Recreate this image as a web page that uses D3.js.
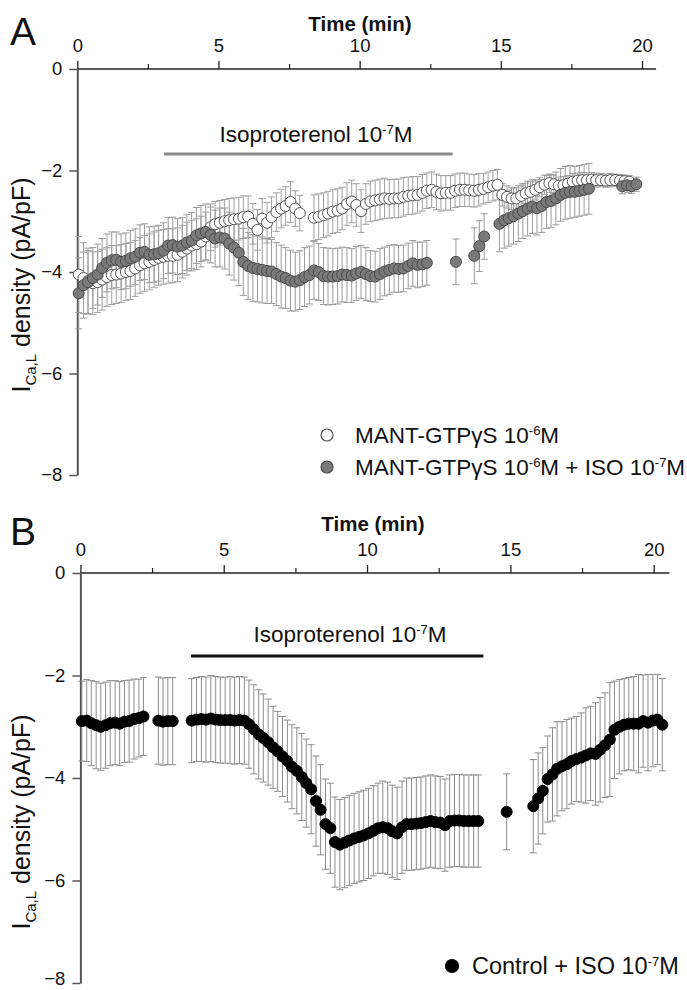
<!DOCTYPE html>
<html><head><meta charset="utf-8">
<script src="https://cdn.jsdelivr.net/npm/d3@7"></script>
<style>
body{margin:0;background:#fff}
svg{display:block}
text{font-family:"Liberation Sans",Arial,Helvetica,sans-serif;fill:#111}
</style>
</head><body>
<svg id="c" width="687" height="990"></svg>
<script>
// ---------- tick labels ----------
const xTicks = [0, 5, 10, 15, 20];
const xMinor = [2.5, 7.5, 12.5, 17.5];
const yTicks = [0, -2, -4, -6, -8];

// ---------- Panel A : MANT-GTPγS 10^-6 M (open circles) ----------
const openT = [0.05,0.22,0.38,0.55,0.72,0.88,1.05,1.22,1.38,1.55,1.72,1.88,2.05,2.22,2.38,2.55,2.72,2.88,3.05,3.22,
3.38,3.55,3.72,3.88,4.05,4.22,4.38,4.55,4.72,4.88,5.05,5.22,5.38,5.55,5.72,5.88,6.05,6.22,6.38,6.55,
6.72,6.88,7.05,7.22,7.38,7.55,7.72,7.88,
8.38,8.55,8.72,8.88,9.05,9.22,9.38,9.55,9.72,9.88,10.05,10.22,10.38,10.55,10.72,10.88,11.05,11.22,11.38,11.55,
11.72,11.88,12.05,12.22,12.38,12.55,12.72,12.88,13.05,13.22,13.38,13.55,13.72,13.88,14.05,14.22,14.38,14.55,14.72,14.88,
15.05,15.22,15.38,15.55,15.72,15.88,16.05,16.22,16.38,16.55,16.72,16.88,17.05,17.22,17.38,17.55,17.72,17.88,18.05,18.22,
18.38,18.55,18.72,18.88,19.05,19.22,19.38,19.55];
const openV = [-4.05,-4.12,-4.18,-4.22,-4.20,-4.15,-4.10,-4.06,-4.05,-4.03,-4.00,-3.98,-3.93,-3.87,-3.83,-3.80,-3.76,-3.72,-3.70,-3.68,
-3.68,-3.66,-3.60,-3.54,-3.48,-3.45,-3.40,-3.30,-3.12,-3.06,-3.03,-3.00,-2.98,-2.96,-2.95,-2.92,-2.91,-3.05,-3.17,-2.95,
-3.03,-2.92,-2.82,-2.75,-2.70,-2.62,-2.75,-2.84,
-2.93,-2.91,-2.88,-2.85,-2.81,-2.79,-2.75,-2.66,-2.61,-2.68,-2.80,-2.66,-2.61,-2.59,-2.57,-2.55,-2.56,-2.55,-2.55,-2.52,
-2.50,-2.49,-2.48,-2.44,-2.40,-2.38,-2.42,-2.45,-2.44,-2.44,-2.40,-2.38,-2.38,-2.39,-2.40,-2.38,-2.36,-2.33,-2.30,-2.28,
-2.48,-2.52,-2.55,-2.55,-2.50,-2.45,-2.42,-2.38,-2.33,-2.28,-2.25,-2.27,-2.30,-2.29,-2.26,-2.22,-2.20,-2.19,-2.19,-2.18,
-2.19,-2.19,-2.20,-2.19,-2.19,-2.20,-2.21,-2.22];
const openE = [0.75,0.70,0.65,0.62,0.60,0.60,0.58,0.58,0.57,0.57,0.56,0.56,0.55,0.55,0.55,0.55,0.55,0.54,0.54,0.54,
0.53,0.53,0.52,0.52,0.50,0.50,0.50,0.48,0.46,0.45,0.44,0.43,0.43,0.42,0.42,0.42,0.41,0.40,0.40,0.40,
0.40,0.40,0.38,0.38,0.38,0.40,0.35,0.35,
0.45,0.45,0.44,0.44,0.43,0.43,0.42,0.42,0.42,0.42,0.42,0.40,0.40,0.40,0.40,0.40,0.38,0.38,0.38,0.38,
0.37,0.37,0.36,0.36,0.35,0.35,0.35,0.35,0.34,0.34,0.33,0.33,0.33,0.32,0.32,0.32,0.30,0.30,0.30,0.30,
0.22,0.22,0.22,0.21,0.21,0.20,0.20,0.20,0.19,0.19,0.18,0.18,0.17,0.17,0.16,0.16,0.15,0.15,0.15,0.14,
0.14,0.13,0.13,0.13,0.12,0.12,0.12,0.12];

// ---------- Panel A : MANT-GTPγS 10^-6 M + ISO 10^-7 M (grey filled) ----------
const isoT = [0.05,0.22,0.38,0.55,0.72,0.88,1.05,1.22,1.38,1.55,1.72,1.88,2.05,2.22,2.38,2.55,2.72,2.88,3.05,3.22,
3.38,3.55,3.72,3.88,4.05,4.22,4.38,4.55,4.72,4.88,5.05,5.22,5.38,5.55,5.72,5.88,6.05,6.22,6.38,6.55,
6.72,6.88,7.05,7.22,7.38,7.55,7.72,7.88,8.05,8.22,8.38,8.55,8.72,8.88,9.05,9.22,9.38,9.55,9.72,9.88,
10.05,10.22,10.38,10.55,10.72,10.88,11.05,11.22,11.38,11.55,11.72,11.88,12.05,12.22,12.38,
13.41,14.06,14.24,14.41,
14.95,15.12,15.28,15.45,15.62,15.78,15.95,16.12,16.28,16.45,16.62,16.78,16.95,17.12,17.28,17.45,17.62,17.78,17.95,18.12,
19.30,19.47,19.63,19.80];
const isoV = [-4.42,-4.26,-4.20,-4.12,-4.05,-3.92,-3.82,-3.77,-3.76,-3.80,-3.78,-3.73,-3.70,-3.62,-3.60,-3.66,-3.65,-3.63,-3.58,-3.48,
-3.47,-3.50,-3.48,-3.42,-3.38,-3.28,-3.24,-3.21,-3.27,-3.34,-3.32,-3.34,-3.44,-3.52,-3.62,-3.80,-3.88,-3.92,-3.94,-3.96,
-3.98,-3.99,-4.04,-4.09,-4.12,-4.17,-4.19,-4.16,-4.10,-4.06,-3.97,-4.00,-4.08,-4.09,-4.09,-4.08,-4.05,-4.06,-4.07,-4.03,
-4.00,-4.04,-4.08,-4.09,-4.04,-3.99,-3.96,-3.93,-3.94,-3.93,-3.88,-3.83,-3.86,-3.85,-3.82,
-3.80,-3.68,-3.49,-3.30,
-3.05,-2.98,-2.94,-2.90,-2.85,-2.80,-2.75,-2.71,-2.74,-2.70,-2.62,-2.60,-2.55,-2.48,-2.44,-2.42,-2.42,-2.40,-2.38,-2.36,
-2.31,-2.29,-2.31,-2.27];
const isoE = [0.70,0.65,0.62,0.60,0.60,0.58,0.57,0.56,0.55,0.55,0.55,0.55,0.55,0.55,0.55,0.55,0.55,0.55,0.55,0.55,
0.55,0.55,0.55,0.55,0.55,0.55,0.55,0.55,0.55,0.56,0.58,0.60,0.62,0.64,0.65,0.66,0.66,0.66,0.65,0.65,
0.64,0.63,0.62,0.62,0.60,0.60,0.58,0.58,0.58,0.57,0.57,0.56,0.56,0.56,0.55,0.55,0.54,0.54,0.53,0.53,
0.52,0.52,0.50,0.50,0.50,0.48,0.48,0.47,0.46,0.46,0.45,0.45,0.45,0.44,0.44,
0.45,0.55,0.50,0.45,
0.55,0.55,0.55,0.55,0.55,0.54,0.54,0.53,0.53,0.52,0.52,0.52,0.52,0.52,0.52,0.52,0.50,0.50,0.50,0.50,
0.15,0.14,0.14,0.14];

// ---------- Panel B : Control + ISO 10^-7 M ----------
const ctrlT = [0.05,0.22,0.38,0.55,0.71,0.88,1.04,1.21,1.37,1.54,1.70,1.87,2.04,2.20,
2.72,2.88,3.05,3.22,
3.88,4.05,4.22,4.38,4.55,4.72,4.88,5.05,5.22,5.38,5.55,5.72,
5.88,6.05,6.22,6.38,6.55,6.72,6.88,7.05,7.22,7.38,7.55,7.72,7.88,8.05,8.22,8.38,8.55,8.72,8.88,9.05,
9.22,9.38,9.55,9.72,9.88,10.05,10.22,10.38,10.55,10.72,10.88,11.05,11.22,11.38,11.55,11.72,11.88,12.05,12.22,12.38,
12.55,12.72,12.88,13.05,13.22,13.38,13.55,13.72,13.88,
14.87,
15.80,15.97,16.13,16.30,16.47,16.63,16.80,16.97,17.13,17.30,17.47,17.63,17.80,17.97,18.13,18.30,18.47,18.63,18.80,18.97,
19.13,19.30,19.47,19.63,19.80,19.97,20.13,20.30];
const ctrlV = [-2.89,-2.88,-2.93,-2.97,-3.00,-2.97,-2.93,-2.92,-2.94,-2.90,-2.89,-2.85,-2.83,-2.80,
-2.88,-2.90,-2.89,-2.89,
-2.88,-2.86,-2.85,-2.86,-2.84,-2.86,-2.87,-2.87,-2.87,-2.88,-2.87,-2.88,
-2.95,-3.05,-3.15,-3.22,-3.30,-3.40,-3.48,-3.58,-3.67,-3.78,-3.86,-3.98,-4.10,-4.22,-4.45,-4.62,-4.90,-4.98,-5.25,-5.30,
-5.26,-5.22,-5.18,-5.15,-5.12,-5.08,-5.03,-4.98,-4.96,-4.98,-5.04,-5.08,-4.96,-4.90,-4.90,-4.89,-4.88,-4.86,-4.84,-4.86,
-4.87,-4.92,-4.84,-4.83,-4.83,-4.84,-4.84,-4.84,-4.84,
-4.66,
-4.55,-4.40,-4.25,-4.02,-3.93,-3.82,-3.77,-3.73,-3.67,-3.63,-3.60,-3.56,-3.52,-3.53,-3.45,-3.36,-3.25,-3.06,-3.00,-2.96,
-2.94,-2.94,-2.94,-2.89,-2.92,-2.88,-2.86,-2.96];
const ctrlE = [0.78,0.80,0.83,0.85,0.85,0.84,0.83,0.82,0.82,0.80,0.80,0.78,0.76,0.76,
0.85,0.85,0.85,0.85,
0.82,0.82,0.83,0.83,0.84,0.84,0.84,0.84,0.85,0.85,0.85,0.85,
0.86,0.87,0.87,0.86,0.84,0.80,0.78,0.78,0.80,0.82,0.84,0.85,0.86,0.87,0.88,0.88,0.88,0.88,0.88,0.88,
0.88,0.88,0.88,0.88,0.88,0.88,0.88,0.88,0.90,0.90,0.90,0.90,0.90,0.90,0.90,0.90,0.90,0.90,0.90,0.90,
0.90,0.90,0.90,0.90,0.90,0.90,0.90,0.90,0.90,
0.74,
0.91,0.89,0.84,0.84,0.91,0.92,0.87,0.87,0.84,0.83,0.87,0.93,0.92,1.00,1.02,1.02,1.11,0.95,0.92,0.90,
0.90,0.92,0.96,0.90,0.94,0.90,0.88,0.90];

// ---------- drawing ----------
const svg = d3.select("#c");

function rich(sel, parts, big, small) {
  let shift = 0;
  parts.forEach(([t, k]) => {
    const target = k === "sup" ? -8 : (k === "sub" ? 6 : 0);
    sel.append("tspan")
      .attr("dy", target - shift)
      .attr("font-size", k === "n" ? big : small)
      .text(t);
    shift = target;
  });
}

function panel(o) {
  const x = d3.scaleLinear().domain([0, 20]).range(o.xr);
  const y = d3.scaleLinear().domain([0, -8]).range(o.yr);
  const g = svg.append("g");

  // x axis (top)
  const ax = g.append("g").attr("transform", `translate(0,${y(0)})`)
    .call(d3.axisTop(x).tickValues(xTicks).tickSize(8).tickSizeOuter(0).tickPadding(9).tickFormat(d3.format("d")));
  ax.select(".domain").attr("d", `M${x(0)},0H${x(o.xMax)}`).attr("stroke", "#222").attr("stroke-width", 1.6);
  ax.selectAll(".tick line").attr("stroke", "#222").attr("stroke-width", 1.3);
  ax.selectAll(".tick text").attr("font-size", 18.5).attr("font-family", "Liberation Sans, Arial, sans-serif").attr("fill", "#111");
  const axm = g.append("g").attr("transform", `translate(0,${y(0)})`)
    .call(d3.axisTop(x).tickValues(xMinor).tickSize(5).tickFormat(""));
  axm.select(".domain").remove();
  axm.selectAll(".tick line").attr("stroke", "#222").attr("stroke-width", 1.2);

  // y axis
  const ay = g.append("g").attr("transform", `translate(${x(0)},0)`)
    .call(d3.axisLeft(y).tickValues(yTicks).tickSize(8).tickSizeOuter(0).tickPadding(7).tickFormat(d3.format("d")));
  ay.select(".domain").attr("stroke", "#555").attr("stroke-width", 2);
  ay.selectAll(".tick line").attr("stroke", "#555").attr("stroke-width", 1.5);
  ay.selectAll(".tick text").attr("font-size", 18.5).attr("font-family", "Liberation Sans, Arial, sans-serif").attr("fill", "#111");
  if (o.lastTickLift) {
    ay.selectAll(".tick text").filter(d => d === -8).attr("dy", "0.1em");
  }

  // axis titles
  g.append("text").attr("x", o.timeX).attr("y", o.timeY).attr("text-anchor", "middle")
    .attr("font-size", 20.5).attr("font-weight", "bold").text("Time (min)");
  const yl = g.append("text").attr("transform", `translate(${o.ylX},${o.ylY}) rotate(-90)`)
    .attr("text-anchor", "middle");
  rich(yl, [["I", "n"], ["Ca,L", "sub"], [" density (pA/pF)", "n"]], 25, 15);

  // panel letter
  g.append("text").attr("x", 10).attr("y", o.letterY).attr("font-size", 39).text(o.letter);

  // isoproterenol bar + label
  g.append("line").attr("x1", x(o.isoBar[0])).attr("x2", x(o.isoBar[1]))
    .attr("y1", o.isoY).attr("y2", o.isoY).attr("stroke", o.isoColor).attr("stroke-width", 3);
  const il = g.append("text").attr("x", o.isoLabelX).attr("y", o.isoLabelY).attr("text-anchor", "middle");
  rich(il, [["Isoproterenol 10", "n"], ["-7", "sup"], ["M", "n"]], 22.5, 13);

  // series: error bars first, then markers
  o.series.forEach(s => {
    const data = s.t.map((t, i) => ({ t, v: s.v[i], e: s.e[i] }));
    const eb = g.append("g").attr("stroke", s.errColor).attr("stroke-width", 1).attr("fill", "none");
    data.forEach(d => {
      const xx = x(d.t), y1 = y(d.v + d.e), y2 = y(d.v - d.e);
      eb.append("line").attr("x1", xx).attr("x2", xx).attr("y1", y1).attr("y2", y2);
      eb.append("line").attr("x1", xx - 3.5).attr("x2", xx + 3.5).attr("y1", y1).attr("y2", y1);
      eb.append("line").attr("x1", xx - 3.5).attr("x2", xx + 3.5).attr("y1", y2).attr("y2", y2);
    });
    s.data = data;
  });
  o.series.forEach(s => {
    g.append("g").selectAll("circle").data(s.data).join("circle")
      .attr("cx", d => x(d.t)).attr("cy", d => y(d.v)).attr("r", s.r)
      .attr("fill", s.fill).attr("stroke", s.stroke).attr("stroke-width", 1);
  });

  // legend
  o.legend.forEach(l => {
    g.append("circle").attr("cx", l.x).attr("cy", l.y).attr("r", l.r)
      .attr("fill", l.fill).attr("stroke", l.stroke).attr("stroke-width", 1.2);
    const t = g.append("text").attr("x", l.tx).attr("y", l.y + 8);
    rich(t, l.parts, l.fs, 13);
  });
}

panel({
  letter: "A", letterY: 45,
  xr: [77.3, 642], yr: [69, 475], xMax: 20.5,
  timeX: 360, timeY: 31,
  ylX: 30, ylY: 285,
  isoBar: [3.07, 13.29], isoY: 154, isoColor: "#8a8a8a",
  isoLabelX: 316, isoLabelY: 142,
  series: [
    { t: openT, v: openV, e: openE, r: 5.5, fill: "#fff", stroke: "#555", errColor: "#a0a0a0" },
    { t: isoT, v: isoV, e: isoE, r: 5.5, fill: "#7a7a7a", stroke: "#4a4a4a", errColor: "#9a9a9a" }
  ],
  legend: [
    { x: 327, y: 435, r: 6, fill: "#fff", stroke: "#555", tx: 355, fs: 22.5,
      parts: [["MANT-GTPγS 10", "n"], ["-6", "sup"], ["M", "n"]] },
    { x: 327, y: 467, r: 6, fill: "#7a7a7a", stroke: "#4a4a4a", tx: 355, fs: 22.5,
      parts: [["MANT-GTPγS 10", "n"], ["-6", "sup"], ["M + ISO 10", "n"], ["-7", "sup"], ["M", "n"]] }
  ]
});

panel({
  letter: "B", letterY: 545,
  xr: [80.4, 653.7], yr: [573, 983], xMax: 20.55,
  timeX: 373, timeY: 531,
  ylX: 30, ylY: 822,
  lastTickLift: true,
  isoBar: [3.86, 14.06], isoY: 656, isoColor: "#111",
  isoLabelX: 350, isoLabelY: 642,
  series: [
    { t: ctrlT, v: ctrlV, e: ctrlE, r: 5.5, fill: "#000", stroke: "#000", errColor: "#8c8c8c" }
  ],
  legend: [
    { x: 452, y: 966, r: 6.5, fill: "#000", stroke: "#000", tx: 472, fs: 23.5,
      parts: [["Control + ISO 10", "n"], ["-7", "sup"], ["M", "n"]] }
  ]
});
</script>
</body></html>
